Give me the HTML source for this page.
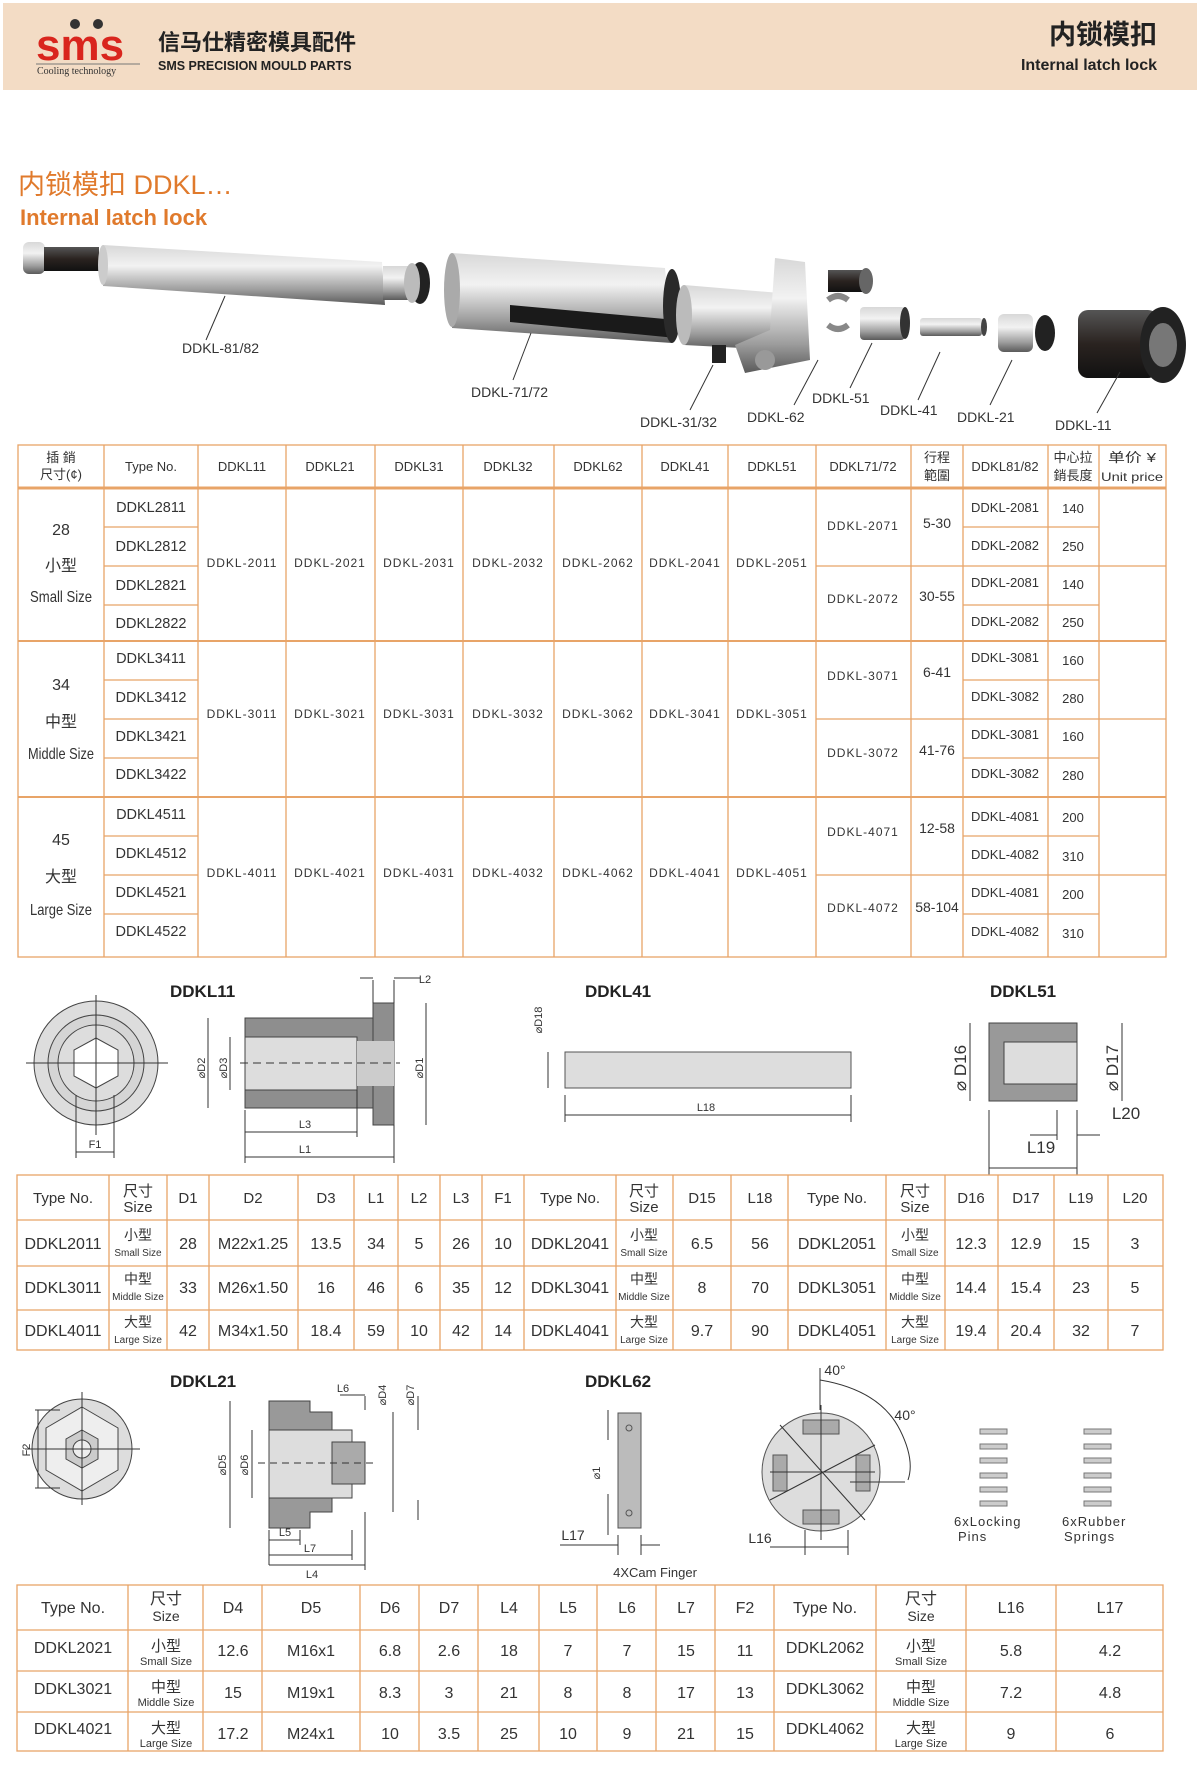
<!DOCTYPE html>
<html><head><meta charset="utf-8"><style>
html,body{margin:0;padding:0;background:#fff;}
svg{display:block}
text{font-family:"Liberation Sans Narrow","Liberation Sans","Noto Sans CJK SC",sans-serif;fill:#333}
.t{font-size:15px;text-anchor:middle}
.s{font-size:11px;text-anchor:middle}
.d{font-size:12px;letter-spacing:1px;text-anchor:middle}
.lab{font-size:14px;fill:#444}
.o{stroke:#e8a468;stroke-width:1.3;fill:none}
.ln{stroke:#333;stroke-width:1;fill:none}
</style></head><body>
<svg width="1200" height="1775" viewBox="0 0 1200 1775" xmlns="http://www.w3.org/2000/svg">
<defs>
<linearGradient id="m" x1="0" y1="0" x2="0" y2="1"><stop offset="0" stop-color="#d8d8d8"/><stop offset=".35" stop-color="#f2f2f2"/><stop offset=".75" stop-color="#9c9c9c"/><stop offset="1" stop-color="#5a5a5a"/></linearGradient>
<linearGradient id="dk" x1="0" y1="0" x2="0" y2="1"><stop offset="0" stop-color="#555"/><stop offset=".5" stop-color="#2a2320"/><stop offset="1" stop-color="#111"/></linearGradient>
</defs>
<!-- header -->
<rect x="3" y="3" width="1194" height="87" fill="#f3dcc5"/>
<text x="36" y="60" style="font-family:'Liberation Sans';font-weight:bold;font-size:44px;fill:#d9251d">sms</text>
<circle cx="75" cy="24" r="5" fill="#333"/><circle cx="98" cy="24" r="5" fill="#333"/>
<line x1="36" y1="64" x2="140" y2="64" stroke="#777"/>
<text x="37" y="74" style="font-family:'Liberation Serif';font-size:10px;fill:#333">Cooling technology</text>
<text x="158" y="50" style="font-size:22px;font-weight:bold;fill:#222">信马仕精密模具配件</text>
<text x="158" y="70" style="font-family:'Liberation Sans';font-size:12.5px;font-weight:bold;fill:#222">SMS PRECISION MOULD PARTS</text>
<text x="1157" y="44" style="font-size:27px;font-weight:bold;fill:#222;text-anchor:end">内锁模扣</text>
<text x="1157" y="70" style="font-family:'Liberation Sans';font-size:16px;font-weight:bold;fill:#222;text-anchor:end">Internal latch lock</text>
<!-- title -->
<text x="18" y="194" style="font-size:27px;fill:#e07a2c">内锁模扣 DDKL…</text>
<text x="20" y="225" style="font-family:'Liberation Sans';font-size:22px;font-weight:bold;fill:#e07a2c">Internal latch lock</text>
<!-- parts -->
<rect x="23" y="242" width="22" height="32" rx="6" fill="url(#m)"/>
<rect x="44" y="247" width="55" height="24" fill="url(#dk)"/>
<polygon points="103,245 382,262 385,305 103,286" fill="url(#m)"/>
<ellipse cx="103" cy="265" rx="5" ry="20" fill="#ccc"/>
<rect x="383" y="266" width="30" height="34" fill="url(#m)"/><ellipse cx="420" cy="283" rx="10" ry="21" fill="#222"/><ellipse cx="412" cy="283" rx="8" ry="20" fill="#bbb"/>
<polygon points="452,253 665,268 672,343 452,328" fill="url(#m)"/>
<ellipse cx="452" cy="290" rx="8" ry="37" fill="#aaa"/>
<polygon points="510,305 676,320 676,338 510,322" fill="#1a1a1a"/>
<ellipse cx="672" cy="306" rx="9" ry="37" fill="#2a2a2a"/>
<polygon points="684,285 780,293 780,350 684,345" fill="url(#m)"/>
<ellipse cx="684" cy="315" rx="8" ry="30" fill="#bbb"/>
<polygon points="775,258 805,262 810,360 745,373 735,345 770,330" fill="url(#m)"/>
<circle cx="765" cy="360" r="10" fill="#999"/>
<rect x="828" y="270" width="40" height="22" fill="url(#dk)"/><ellipse cx="866" cy="281" rx="7" ry="13" fill="#666"/>
<rect x="712" y="345" width="14" height="18" fill="#222"/>
<path d="M828 300 q10 -8 20 0 M828 325 q10 8 20 0" stroke="#888" stroke-width="6" fill="none"/>
<rect x="860" y="307" width="45" height="33" rx="4" fill="url(#m)"/><ellipse cx="905" cy="323" rx="5" ry="16" fill="#333"/>
<rect x="920" y="318" width="62" height="18" rx="3" fill="url(#m)"/><ellipse cx="984" cy="327" rx="3" ry="9" fill="#444"/>
<rect x="998" y="314" width="35" height="38" rx="6" fill="url(#m)"/><ellipse cx="1045" cy="333" rx="10" ry="18" fill="#222"/>
<rect x="1078" y="310" width="80" height="68" rx="10" fill="url(#dk)"/><ellipse cx="1163" cy="345" rx="23" ry="38" fill="#222"/><ellipse cx="1163" cy="345" rx="14" ry="22" fill="#777"/>
<g class="ln" stroke="#333">
<line x1="206" y1="340" x2="225" y2="296"/><line x1="513" y1="380" x2="531" y2="333"/>
<line x1="690" y1="410" x2="713" y2="365"/><line x1="794" y1="405" x2="818" y2="360"/>
<line x1="850" y1="388" x2="872" y2="343"/><line x1="918" y1="400" x2="940" y2="352"/>
<line x1="990" y1="405" x2="1012" y2="360"/><line x1="1097" y1="413" x2="1120" y2="372"/>
</g>
<g class="lab">
<text x="182" y="353">DDKL-81/82</text><text x="471" y="397">DDKL-71/72</text>
<text x="640" y="427">DDKL-31/32</text><text x="747" y="422">DDKL-62</text>
<text x="812" y="403">DDKL-51</text><text x="880" y="415">DDKL-41</text>
<text x="957" y="422">DDKL-21</text><text x="1055" y="430">DDKL-11</text>
</g>
<!-- main table -->
<g class="o">
<rect x="18" y="445" width="1148" height="512"/>
<line x1="18" y1="488" x2="1166" y2="488" stroke-width="3"/>
<line x1="18" y1="641" x2="1166" y2="641" stroke-width="2"/>
<line x1="18" y1="797" x2="1166" y2="797" stroke-width="2"/>
<line x1="104" y1="445" x2="104" y2="957"/><line x1="198" y1="445" x2="198" y2="957"/>
<line x1="286" y1="445" x2="286" y2="957"/><line x1="375" y1="445" x2="375" y2="957"/>
<line x1="463" y1="445" x2="463" y2="957"/><line x1="554" y1="445" x2="554" y2="957"/>
<line x1="642" y1="445" x2="642" y2="957"/><line x1="728" y1="445" x2="728" y2="957"/>
<line x1="816" y1="445" x2="816" y2="957"/><line x1="911" y1="445" x2="911" y2="957"/>
<line x1="963" y1="445" x2="963" y2="957"/><line x1="1048" y1="445" x2="1048" y2="957"/>
<line x1="1099" y1="445" x2="1099" y2="957"/>
<path d="M104 527H198M104 566H198M104 605H198M104 680H198M104 719H198M104 758H198M104 836H198M104 875H198M104 914H198"/>
<path d="M963 527H1099M963 605H1099M963 680H1099M963 758H1099M963 836H1099M963 914H1099"/>
<path d="M816 566H1166M816 719H1166M816 875H1166"/>
</g>
<g class="t" style="font-size:13px">
<text x="61" y="462">插 銷</text><text x="61" y="479">尺寸(¢)</text>
<text x="151" y="471">Type No.</text>
<text x="242" y="471">DDKL11</text><text x="330" y="471">DDKL21</text><text x="419" y="471">DDKL31</text>
<text x="508" y="471">DDKL32</text><text x="598" y="471">DDKL62</text><text x="685" y="471">DDKL41</text>
<text x="772" y="471">DDKL51</text><text x="863" y="471">DDKL71/72</text>
<text x="937" y="462">行程</text><text x="937" y="480">範圍</text>
<text x="1005" y="471">DDKL81/82</text>
<text x="1073" y="462">中心拉</text><text x="1073" y="480">銷長度</text>
<text x="1132" y="462" textLength="48" lengthAdjust="spacingAndGlyphs">单价 ¥</text><text x="1132" y="481" style="font-size:12px" textLength="62" lengthAdjust="spacingAndGlyphs">Unit price</text>
</g>
<g class="t" style="font-size:16px">
<text x="61" y="535">28</text><text x="61" y="571">小型</text><text x="61" y="602" textLength="62" lengthAdjust="spacingAndGlyphs">Small Size</text>
<text x="61" y="690">34</text><text x="61" y="727">中型</text><text x="61" y="759" textLength="66" lengthAdjust="spacingAndGlyphs">Middle Size</text>
<text x="61" y="845">45</text><text x="61" y="882">大型</text><text x="61" y="915" textLength="62" lengthAdjust="spacingAndGlyphs">Large Size</text>
</g>
<g class="t" style="font-size:14.5px">
<text x="151" y="512">DDKL2811</text><text x="151" y="551">DDKL2812</text><text x="151" y="590">DDKL2821</text><text x="151" y="628">DDKL2822</text>
<text x="151" y="663">DDKL3411</text><text x="151" y="702">DDKL3412</text><text x="151" y="741">DDKL3421</text><text x="151" y="779">DDKL3422</text>
<text x="151" y="819">DDKL4511</text><text x="151" y="858">DDKL4512</text><text x="151" y="897">DDKL4521</text><text x="151" y="936">DDKL4522</text>
</g>
<g class="d">
<text x="242" y="567">DDKL-2011</text><text x="330" y="567">DDKL-2021</text><text x="419" y="567">DDKL-2031</text><text x="508" y="567">DDKL-2032</text><text x="598" y="567">DDKL-2062</text><text x="685" y="567">DDKL-2041</text><text x="772" y="567">DDKL-2051</text>
<text x="242" y="718">DDKL-3011</text><text x="330" y="718">DDKL-3021</text><text x="419" y="718">DDKL-3031</text><text x="508" y="718">DDKL-3032</text><text x="598" y="718">DDKL-3062</text><text x="685" y="718">DDKL-3041</text><text x="772" y="718">DDKL-3051</text>
<text x="242" y="877">DDKL-4011</text><text x="330" y="877">DDKL-4021</text><text x="419" y="877">DDKL-4031</text><text x="508" y="877">DDKL-4032</text><text x="598" y="877">DDKL-4062</text><text x="685" y="877">DDKL-4041</text><text x="772" y="877">DDKL-4051</text>
<text x="863" y="530">DDKL-2071</text><text x="863" y="603">DDKL-2072</text>
<text x="863" y="680">DDKL-3071</text><text x="863" y="757">DDKL-3072</text>
<text x="863" y="836">DDKL-4071</text><text x="863" y="912">DDKL-4072</text>
</g>
<g class="t" style="font-size:14px">
<text x="937" y="528">5-30</text><text x="937" y="601">30-55</text>
<text x="937" y="677">6-41</text><text x="937" y="755">41-76</text>
<text x="937" y="833">12-58</text><text x="937" y="912">58-104</text>
</g>
<g class="t" style="font-size:13px">
<text x="1005" y="512">DDKL-2081</text><text x="1005" y="550">DDKL-2082</text><text x="1005" y="587">DDKL-2081</text><text x="1005" y="626">DDKL-2082</text>
<text x="1005" y="662">DDKL-3081</text><text x="1005" y="701">DDKL-3082</text><text x="1005" y="739">DDKL-3081</text><text x="1005" y="778">DDKL-3082</text>
<text x="1005" y="821">DDKL-4081</text><text x="1005" y="859">DDKL-4082</text><text x="1005" y="897">DDKL-4081</text><text x="1005" y="936">DDKL-4082</text>
<text x="1073" y="513">140</text><text x="1073" y="551">250</text><text x="1073" y="589">140</text><text x="1073" y="627">250</text>
<text x="1073" y="665">160</text><text x="1073" y="703">280</text><text x="1073" y="741">160</text><text x="1073" y="780">280</text>
<text x="1073" y="822">200</text><text x="1073" y="861">310</text><text x="1073" y="899">200</text><text x="1073" y="938">310</text>
</g>
<!-- DDKL11 / 41 / 51 drawings -->
<g style="font-family:'Liberation Sans';font-weight:bold;font-size:17px">
<text x="170" y="997" style="fill:#222">DDKL11</text><text x="585" y="997" style="fill:#222">DDKL41</text><text x="990" y="997" style="fill:#222">DDKL51</text>
<text x="170" y="1387" style="fill:#222">DDKL21</text><text x="585" y="1387" style="fill:#222">DDKL62</text>
</g>
<circle cx="96" cy="1063" r="62" fill="#ddd" stroke="#444"/>
<circle cx="96" cy="1063" r="48" fill="#d5d5d5" stroke="#444"/>
<circle cx="96" cy="1063" r="38" fill="#ddd" stroke="#444"/>
<polygon points="96,1038 118,1050 118,1076 96,1088 74,1076 74,1050" fill="#fff" stroke="#444"/>
<line x1="26" y1="1063" x2="168" y2="1063" class="ln"/><line x1="96" y1="995" x2="96" y2="1135" class="ln"/>
<path d="M76 1095V1158M114 1095V1158M76 1152H114" class="ln"/><text x="95" y="1148" class="s">F1</text>
<rect x="245" y="1018" width="130" height="90" fill="#8e8e8e" stroke="#444"/>
<rect x="373" y="1003" width="21" height="122" fill="#8e8e8e" stroke="#444"/>
<rect x="245" y="1037" width="112" height="53" fill="#ddd" stroke="#444"/>
<rect x="357" y="1041" width="37" height="45" fill="#ccc"/>
<line x1="240" y1="1063" x2="400" y2="1063" stroke="#333" stroke-dasharray="8,5"/>
<g class="ln"><path d="M208 1018V1108M230 1037V1090M426 1003V1125M245 1110V1163M357 1090V1137M394 1125V1163M245 1132H357M245 1157H394M373 1003V980M394 1003V980M360 978H373M394 978H420"/></g>
<g class="s"><text x="305" y="1128">L3</text><text x="305" y="1153">L1</text><text x="425" y="983">L2</text>
<text transform="translate(205,1068) rotate(-90)">⌀D2</text><text transform="translate(227,1068) rotate(-90)">⌀D3</text><text transform="translate(423,1068) rotate(-90)">⌀D1</text></g>
<rect x="565" y="1052" width="286" height="36" fill="#ddd" stroke="#555"/>
<g class="ln"><path d="M548 1052V1088M565 1095V1122M851 1095V1122M565 1115H851"/></g>
<text x="706" y="1111" class="s">L18</text><text transform="translate(542,1020) rotate(-90)" class="s">⌀D18</text>
<rect x="989" y="1023" width="88" height="78" fill="#999" stroke="#444"/>
<rect x="1004" y="1042" width="73" height="42" fill="#ddd" stroke="#444"/>
<g class="ln"><path d="M970 1023V1101M1122 1023V1101M989 1110V1175M1077 1110V1175M1057 1110V1140M989 1168H1077M1030 1135H1057M1077 1135H1100"/></g>
<g style="font-size:17px;text-anchor:middle"><text transform="translate(966,1068) rotate(-90)">⌀ D16</text><text transform="translate(1118,1068) rotate(-90)">⌀ D17</text>
<text x="1126" y="1119">L20</text><text x="1041" y="1153">L19</text></g>
<!-- table 2 -->
<g class="o">
<rect x="17" y="1175" width="1146" height="175"/>
<path d="M17 1220H1163M17 1266H1163M17 1310H1163" />
<path d="M109 1175V1350M167 1175V1350M209 1175V1350M298 1175V1350M354 1175V1350M398 1175V1350M440 1175V1350M482 1175V1350M524 1175V1350M616 1175V1350M673 1175V1350M731 1175V1350M788 1175V1350M886 1175V1350M945 1175V1350M998 1175V1350M1054 1175V1350M1108 1175V1350"/>
</g>
<g class="t">
<text x="63" y="1203">Type No.</text><text x="138" y="1196">尺寸</text><text x="138" y="1212">Size</text>
<text x="188" y="1203">D1</text><text x="253" y="1203">D2</text><text x="326" y="1203">D3</text><text x="376" y="1203">L1</text><text x="419" y="1203">L2</text><text x="461" y="1203">L3</text><text x="503" y="1203">F1</text>
<text x="570" y="1203">Type No.</text><text x="644" y="1196">尺寸</text><text x="644" y="1212">Size</text><text x="702" y="1203">D15</text><text x="760" y="1203">L18</text>
<text x="837" y="1203">Type No.</text><text x="915" y="1196">尺寸</text><text x="915" y="1212">Size</text><text x="971" y="1203">D16</text><text x="1026" y="1203">D17</text><text x="1081" y="1203">L19</text><text x="1135" y="1203">L20</text>
</g>
<g class="t" style="font-size:16px">
<text x="63" y="1249">DDKL2011</text><text x="188" y="1249">28</text><text x="253" y="1249">M22x1.25</text><text x="326" y="1249">13.5</text><text x="376" y="1249">34</text><text x="419" y="1249">5</text><text x="461" y="1249">26</text><text x="503" y="1249">10</text><text x="570" y="1249">DDKL2041</text><text x="702" y="1249">6.5</text><text x="760" y="1249">56</text><text x="837" y="1249">DDKL2051</text><text x="971" y="1249">12.3</text><text x="1026" y="1249">12.9</text><text x="1081" y="1249">15</text><text x="1135" y="1249">3</text>
<text x="63" y="1293">DDKL3011</text><text x="188" y="1293">33</text><text x="253" y="1293">M26x1.50</text><text x="326" y="1293">16</text><text x="376" y="1293">46</text><text x="419" y="1293">6</text><text x="461" y="1293">35</text><text x="503" y="1293">12</text><text x="570" y="1293">DDKL3041</text><text x="702" y="1293">8</text><text x="760" y="1293">70</text><text x="837" y="1293">DDKL3051</text><text x="971" y="1293">14.4</text><text x="1026" y="1293">15.4</text><text x="1081" y="1293">23</text><text x="1135" y="1293">5</text>
<text x="63" y="1336">DDKL4011</text><text x="188" y="1336">42</text><text x="253" y="1336">M34x1.50</text><text x="326" y="1336">18.4</text><text x="376" y="1336">59</text><text x="419" y="1336">10</text><text x="461" y="1336">42</text><text x="503" y="1336">14</text><text x="570" y="1336">DDKL4041</text><text x="702" y="1336">9.7</text><text x="760" y="1336">90</text><text x="837" y="1336">DDKL4051</text><text x="971" y="1336">19.4</text><text x="1026" y="1336">20.4</text><text x="1081" y="1336">32</text><text x="1135" y="1336">7</text>
</g>
<g class="t" style="font-size:14px">
<text x="138" y="1240">小型</text><text x="644" y="1240">小型</text><text x="915" y="1240">小型</text>
<text x="138" y="1284">中型</text><text x="644" y="1284">中型</text><text x="915" y="1284">中型</text>
<text x="138" y="1327">大型</text><text x="644" y="1327">大型</text><text x="915" y="1327">大型</text>
</g>
<g class="s" style="font-size:10px">
<text x="138" y="1256">Small Size</text><text x="644" y="1256">Small Size</text><text x="915" y="1256">Small Size</text>
<text x="138" y="1300">Middle Size</text><text x="644" y="1300">Middle Size</text><text x="915" y="1300">Middle Size</text>
<text x="138" y="1343">Large Size</text><text x="644" y="1343">Large Size</text><text x="915" y="1343">Large Size</text>
</g>
<!-- DDKL21 / 62 drawings -->
<circle cx="82" cy="1449" r="50" fill="#ddd" stroke="#444"/>
<polygon points="82,1407 118,1428 118,1470 82,1491 46,1470 46,1428" fill="#eee" stroke="#444"/>
<polygon points="82,1430 98,1439 98,1459 82,1468 66,1459 66,1439" fill="#ccc" stroke="#444"/>
<circle cx="82" cy="1449" r="9" fill="#eee" stroke="#444"/>
<g class="ln"><path d="M82 1392V1505M25 1449H140M35 1410H60M35 1488H60M38 1410V1488"/></g>
<text transform="translate(30,1450) rotate(-90)" class="s">F2</text>
<path d="M269 1401H310V1412H332V1512H310V1528H269Z" fill="#999" stroke="#444"/>
<rect x="269" y="1430" width="83" height="68" fill="#ddd" stroke="#444"/>
<rect x="332" y="1442" width="33" height="42" fill="#aaa" stroke="#444"/>
<line x1="258" y1="1463" x2="375" y2="1463" stroke="#333" stroke-dasharray="7,5"/>
<g class="ln"><path d="M230 1401V1528M252 1430V1498M393 1412V1512M418 1396V1430M418 1500V1520M269 1530V1565M300 1530V1545M269 1540H300M269 1555H352M269 1565H365M352 1530V1560M365 1512V1570M340 1395H365M365 1396V1410"/></g>
<g class="s"><text x="285" y="1536">L5</text><text x="310" y="1552">L7</text><text x="312" y="1578">L4</text><text x="343" y="1392">L6</text>
<text transform="translate(226,1465) rotate(-90)">⌀D5</text><text transform="translate(248,1465) rotate(-90)">⌀D6</text>
<text transform="translate(386,1395) rotate(-90)">⌀D4</text><text transform="translate(414,1395) rotate(-90)">⌀D7</text></g>
<rect x="618" y="1413" width="23" height="115" fill="#bbb" stroke="#555"/>
<circle cx="629" cy="1428" r="3" fill="none" stroke="#555"/><circle cx="629" cy="1513" r="3" fill="none" stroke="#555"/>
<g class="ln"><path d="M608 1410V1440M608 1494V1535M618 1535V1555M641 1535V1555M560 1545H618M641 1545H660"/></g>
<text x="573" y="1540" class="s" style="font-size:14px">L17</text><text transform="translate(600,1473) rotate(-90)" class="s">⌀1</text>
<circle cx="821" cy="1472" r="59" fill="#ddd" stroke="#555"/>
<g stroke="#555" fill="#aaa"><rect x="803" y="1420" width="36" height="14"/><rect x="803" y="1510" width="36" height="14"/><rect x="773" y="1455" width="14" height="36"/><rect x="856" y="1455" width="14" height="36"/></g>
<g class="ln" stroke-width=".7"><path d="M770 1500L875 1445M780 1425L865 1520M821 1405V1540M770 1472H875"/></g>
<path d="M820 1380Q880 1390 900 1430M900 1430Q915 1460 908 1480" class="ln"/>
<path d="M820 1368V1410M905 1482H850" class="ln"/>
<text x="835" y="1375" class="s" style="font-size:14px">40°</text><text x="905" y="1420" class="s" style="font-size:14px">40°</text>
<g class="ln"><path d="M805 1530V1555M848 1530V1555M770 1547H848"/></g><text x="760" y="1543" class="s" style="font-size:14px">L16</text>
<text x="655" y="1577" class="s" style="font-size:13px">4XCam Finger</text>
<g fill="#ccc" stroke="#777">
<rect x="980" y="1429" width="27" height="5"/><rect x="980" y="1444" width="27" height="5"/><rect x="980" y="1458" width="27" height="5"/><rect x="980" y="1473" width="27" height="5"/><rect x="980" y="1487" width="27" height="5"/><rect x="980" y="1501" width="27" height="5"/>
<rect x="1084" y="1429" width="27" height="5"/><rect x="1084" y="1444" width="27" height="5"/><rect x="1084" y="1458" width="27" height="5"/><rect x="1084" y="1473" width="27" height="5"/><rect x="1084" y="1487" width="27" height="5"/><rect x="1084" y="1501" width="27" height="5"/>
</g>
<g style="font-size:13px;letter-spacing:1px"><text x="954" y="1526">6xLocking</text><text x="958" y="1541">Pins</text><text x="1062" y="1526">6xRubber</text><text x="1064" y="1541">Springs</text></g>
<!-- table 3 -->
<g class="o">
<rect x="17" y="1585" width="1146" height="166"/>
<path d="M17 1630H1163M17 1671H1163M17 1712H1163"/>
<path d="M128 1585V1751M203 1585V1751M262 1585V1751M360 1585V1751M419 1585V1751M478 1585V1751M539 1585V1751M597 1585V1751M656 1585V1751M715 1585V1751M774 1585V1751M876 1585V1751M966 1585V1751M1056 1585V1751"/>
</g>
<g class="t" style="font-size:16px">
<text x="73" y="1613">Type No.</text><text x="166" y="1604">尺寸</text><text x="166" y="1621" style="font-size:14px">Size</text>
<text x="233" y="1613">D4</text><text x="311" y="1613">D5</text><text x="390" y="1613">D6</text><text x="449" y="1613">D7</text><text x="509" y="1613">L4</text><text x="568" y="1613">L5</text><text x="627" y="1613">L6</text><text x="686" y="1613">L7</text><text x="745" y="1613">F2</text>
<text x="825" y="1613">Type No.</text><text x="921" y="1604">尺寸</text><text x="921" y="1621" style="font-size:14px">Size</text><text x="1011" y="1613">L16</text><text x="1110" y="1613">L17</text>
<text x="73" y="1653">DDKL2021</text><text x="233" y="1656">12.6</text><text x="311" y="1656">M16x1</text><text x="390" y="1656">6.8</text><text x="449" y="1656">2.6</text><text x="509" y="1656">18</text><text x="568" y="1656">7</text><text x="627" y="1656">7</text><text x="686" y="1656">15</text><text x="745" y="1656">11</text><text x="825" y="1653">DDKL2062</text><text x="1011" y="1656">5.8</text><text x="1110" y="1656">4.2</text>
<text x="73" y="1694">DDKL3021</text><text x="233" y="1698">15</text><text x="311" y="1698">M19x1</text><text x="390" y="1698">8.3</text><text x="449" y="1698">3</text><text x="509" y="1698">21</text><text x="568" y="1698">8</text><text x="627" y="1698">8</text><text x="686" y="1698">17</text><text x="745" y="1698">13</text><text x="825" y="1694">DDKL3062</text><text x="1011" y="1698">7.2</text><text x="1110" y="1698">4.8</text>
<text x="73" y="1734">DDKL4021</text><text x="233" y="1739">17.2</text><text x="311" y="1739">M24x1</text><text x="390" y="1739">10</text><text x="449" y="1739">3.5</text><text x="509" y="1739">25</text><text x="568" y="1739">10</text><text x="627" y="1739">9</text><text x="686" y="1739">21</text><text x="745" y="1739">15</text><text x="825" y="1734">DDKL4062</text><text x="1011" y="1739">9</text><text x="1110" y="1739">6</text>
</g>
<g class="t" style="font-size:15px">
<text x="166" y="1651">小型</text><text x="921" y="1651">小型</text><text x="166" y="1692">中型</text><text x="921" y="1692">中型</text><text x="166" y="1733">大型</text><text x="921" y="1733">大型</text>
</g>
<g class="s"><text x="166" y="1665">Small Size</text><text x="921" y="1665">Small Size</text><text x="166" y="1706">Middle Size</text><text x="921" y="1706">Middle Size</text><text x="166" y="1747">Large Size</text><text x="921" y="1747">Large Size</text></g>
</svg>
</body></html>
